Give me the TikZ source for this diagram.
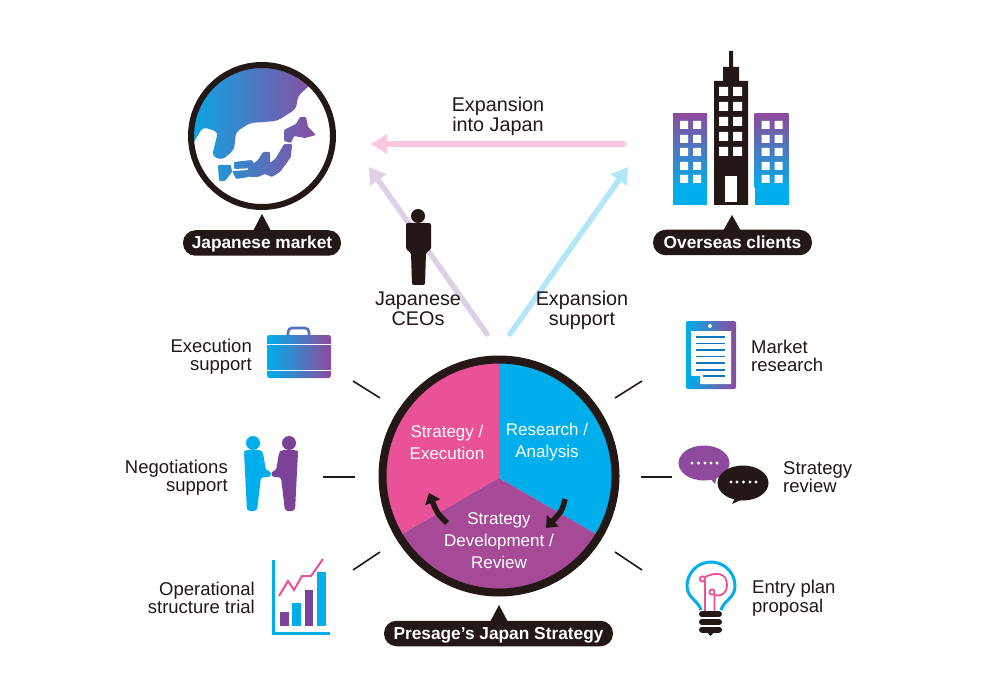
\documentclass[tikz,border=0pt]{standalone}
\usepackage{fontspec}
\setmainfont{Liberation Sans}
\usepackage{xcolor}
\usetikzlibrary{arrows.meta}
\definecolor{ink}{HTML}{231815}
\definecolor{skyc}{HTML}{00AEEB}
\definecolor{plum}{HTML}{8E4A9C}
\definecolor{wine}{HTML}{A64A97}
\definecolor{rose}{HTML}{EA5297}
\definecolor{violet}{HTML}{7B4397}
\definecolor{pagel}{HTML}{0E76BC}
\tikzset{
  lbl/.style={text=ink, align=center, inner sep=0pt, font=\fontsize{19.8}{20}\selectfont},
  lblr/.style={text=ink, inner sep=0pt, align=right, anchor=east, font=\fontsize{18.5}{18.5}\selectfont},
  lbll/.style={text=ink, inner sep=0pt, align=left, anchor=west, font=\fontsize{18.5}{18.5}\selectfont},
  pie/.style={text=white, align=center, inner sep=0pt, font=\fontsize{17}{22}\selectfont},
  pill/.style={fill=ink, text=white, rounded corners=12.5pt, minimum height=25.5pt, inner sep=0pt, text height=12pt, text depth=0.5pt, font=\fontsize{17.3}{17.3}\selectfont\bfseries},
  tick/.style={draw=ink, line width=1.6pt},
  bigarrow/.style={line width=5.5pt, -{Triangle[length=16pt,width=19pt]}},
  turn/.style={draw=ink, line width=5.5pt, -{Triangle[length=10pt,width=16pt]}},
  gradh/.style={left color=skyc, right color=plum, draw=none},
}
\begin{document}
\begin{tikzpicture}[x=1pt,y=-1pt]
\useasboundingbox (0,0) rectangle (1000,700);
\fill[white] (0,0) rectangle (1000,700);

% globe
\begin{scope}
\clip (262,136) circle [radius=71];
\path[gradh, rounded corners=4pt] (310,85)--(298,96)--(296,109)--(277,121)--(250,123)--(236,132)--(234,150)--(222,160)--(212,156)--(218,132)--(203,127)--(192,145)--(180,100)--(230,60)--(320,60)--cycle
 [rounded corners=1pt]
 (284,130)--(296,124)--(300,117)--(306,117)--(308,127)--(316,135)--(305,138)--(294,136)--(291,143)--(284,141)--cycle
 (284,144)--(292,144)--(291,157)--(280,172)--(272,177)--(265,174)--(258,177)--(249,177)--(248,168)--(258,160)--(263,152)--(270,152)--(270,163)--(276,158)--cycle
 (234,162)--(252,160)--(256,168)--(234,169)--cycle
 (232,171)--(249,170)--(249,177)--(236,179)--cycle
 (218,165)--(231,165)--(232,172)--(225,181)--(219,181)--cycle;
\end{scope}
\draw[ink, line width=6pt] (262,136) circle [radius=71];

\fill[ink] (262,214)--(271,231)--(253,231)--cycle;
\node[pill, minimum width=158pt] (market) at (262,243) {Japanese market};

% buildings
\fill[ink] (729,51) rectangle (733,67) (723,67) rectangle (739,81) (714,81) rectangle (748,205);
\fill[white] (719,87) rectangle ++(9,9) (733,87) rectangle ++(9,9);
\fill[white] (719,102) rectangle ++(9,9) (733,102) rectangle ++(9,9);
\fill[white] (719,117) rectangle ++(9,9) (733,117) rectangle ++(9,9);
\fill[white] (719,132) rectangle ++(9,9) (733,132) rectangle ++(9,9);
\fill[white] (719,147) rectangle ++(9,9) (733,147) rectangle ++(9,9);
\fill[white] (725,176) rectangle (737,202);

\begin{scope}[xshift=0pt]
\shade[top color=plum, bottom color=skyc] (673,114) rectangle (707,188);
\fill[skyc] (673,187) rectangle (707,205);
\fill[white] (680,121) rectangle ++(8,8) (693,121) rectangle ++(8,8);
\fill[white] (680,135) rectangle ++(8,8) (693,135) rectangle ++(8,8);
\fill[white] (680,148) rectangle ++(8,8) (693,148) rectangle ++(8,8);
\fill[white] (680,162) rectangle ++(8,8) (693,162) rectangle ++(8,8);
\fill[white] (680,175) rectangle ++(8,8) (693,175) rectangle ++(8,8);
\end{scope}
\begin{scope}[xshift=81.5pt]
\shade[top color=plum, bottom color=skyc] (673,114) rectangle (707,188);
\fill[skyc] (673,187) rectangle (707,205);
\fill[white] (680,121) rectangle ++(8,8) (693,121) rectangle ++(8,8);
\fill[white] (680,135) rectangle ++(8,8) (693,135) rectangle ++(8,8);
\fill[white] (680,148) rectangle ++(8,8) (693,148) rectangle ++(8,8);
\fill[white] (680,162) rectangle ++(8,8) (693,162) rectangle ++(8,8);
\fill[white] (680,175) rectangle ++(8,8) (693,175) rectangle ++(8,8);
\end{scope}

\fill[ink] (732,215)--(741,231)--(723,231)--cycle;
\node[pill, minimum width=159pt] (clients) at (732.5,242.5) {Overseas clients};

% arrows of the triangle
\coordinate (pinkfrom) at (624,144);
\coordinate (pinkto) at (371,144);
\coordinate (ceofrom) at (487,334);
\coordinate (ceoto) at (369,167);
\coordinate (supfrom) at (510,334);
\coordinate (supto) at (628,167);
\draw[bigarrow, draw=rose!32!white, line cap=round] (pinkfrom)--(pinkto);
\draw[bigarrow, draw=violet!25!white, line cap=round] (ceofrom)--(ceoto);
\draw[bigarrow, draw=skyc!30!white, line cap=round] (supfrom)--(supto);

\node[lbl] (intojapan) at (498,116) {Expansion\\into Japan};
\node[lbl] (ceos) at (418,309) {Japanese\\CEOs};
\node[lbl] (expsupport) at (582,310) {Expansion\\support};

% person
\fill[ink] (418,216) circle [radius=7];
\fill[ink, rounded corners=2pt] (406,223)--(431,223)--(431,250)--(426,252)--(425,285)--(412,285)--(411,252)--(406,250)--cycle;

% big circle
\begin{scope}
\clip (499,476) circle [radius=116];
\fill[rose] (499,478)--(499,340)--(340,340)--(326,578)--cycle;
\fill[skyc] (499,478)--(499,340)--(660,340)--(672,578)--cycle;
\fill[wine] (499,478)--(672,578)--(672,620)--(326,620)--(326,578)--cycle;
\end{scope}
\draw[ink, line width=8pt] (499,476) circle [radius=116.5];

\node[pie] (execution) at (447,442.5) {Strategy /\\Execution};
\node[pie] (analysis) at (547,442.5) {Research /\\Analysis};
\node[pie] (review) at (499,541) {Strategy\\Development /~\\Review};

\coordinate (turnafrom) at (565,499);
\coordinate (turnato) at (546,528);
\coordinate (turnbfrom) at (447,523);
\coordinate (turnbto) at (429,493);
\draw[turn] (turnafrom) .. controls (562,511) .. (turnato);
\draw[turn] (turnbfrom) .. controls (437,513) .. (turnbto);

\fill[ink] (499,605)--(508,622)--(490,622)--cycle;
\node[pill, minimum width=229pt] (presage) at (498.5,633.5) {Presage’s Japan Strategy};

% ticks round the circle
\coordinate (ta1) at (353,381);
\coordinate (ta2) at (380,398);
\coordinate (tb1) at (323,477);
\coordinate (tb2) at (355,477);
\coordinate (tc1) at (353,570);
\coordinate (tc2) at (380,552);
\coordinate (td1) at (615,398);
\coordinate (td2) at (642,381);
\coordinate (te1) at (641,477);
\coordinate (te2) at (672,477);
\coordinate (tf1) at (615,552);
\coordinate (tf2) at (642,570);
\draw[tick] (ta1)--(ta2);
\draw[tick] (tb1)--(tb2);
\draw[tick] (tc1)--(tc2);
\draw[tick] (td1)--(td2);
\draw[tick] (te1)--(te2);
\draw[tick] (tf1)--(tf2);

% left labels
\node[lblr] (execsup) at (252,356.5) {Execution\\support};
\node[lblr] (negsup) at (228,477.5) {Negotiations\\support};
\node[lblr] (trial) at (255,598) {Operational\\structure trial};
% right labels
\node[lbll] (mresearch) at (751,356) {Market\\research};
\node[lbll] (sreview) at (783,477) {Strategy\\review};
\node[lbll] (proposal) at (752,598) {Entry plan\\proposal};

% briefcase
\draw[line width=2.6pt, draw=skyc!40!plum, rounded corners=4pt] (288,336)--(288,328)--(309,328)--(309,336);
\shade[gradh, rounded corners=2.5pt] (267,335) rectangle (331,378);
\draw[white, line width=1pt] (267,344.5)--(331,344.5) (267,370)--(331,370);

% handshake
\fill[skyc] (253,443) circle [radius=7];
\fill[skyc, rounded corners=3pt] (244,452)--(245,450)--(261,450)--(263,453)--(266,471)--(271,471)--(271,477)--(261,477)--(257,511)--(247,511)--cycle;
\fill[violet] (289,443) circle [radius=7];
\fill[violet, rounded corners=3pt] (298,452)--(297,450)--(281,450)--(279,453)--(276,471)--(271.5,471)--(271.5,477)--(281,477)--(285,511)--(295,511)--cycle;

% chart
\draw[skyc, line width=3pt] (273,560)--(273,633)--(330,633);
\fill[violet] (280,612) rectangle (289,626);
\fill[skyc] (292,603) rectangle (301,626);
\fill[violet] (305,590) rectangle (313,626);
\fill[skyc] (317,572) rectangle (326,626);
\draw[rose, line width=2pt] (279,596)--(288,581)--(294,590)--(302,576)--(311,576)--(323,559);

% tablet
\shade[gradh, rounded corners=2pt] (686,321) rectangle (736,389);
\fill[white] (691,331)--(731,331)--(731,384)--(700,384)--(691,375)--cycle;
\fill[skyc] (691.5,376)--(700,376)--(700,384.5)--cycle;
\fill[white] (710,326) circle [radius=2];
\draw[pagel, line width=1.4pt] (696,337)--(725,337) (696,343.5)--(725,343.5) (696,350)--(725,350) (696,356.5)--(725,356.5) (696,363)--(725,363) (696,370)--(725,370) (703,376)--(725,376);

% speech bubbles
\fill[plum] (704,463) ellipse [x radius=25.5, y radius=17.5];
\fill[plum] (708,476)--(715,484)--(718,472)--cycle;
\fill[ink] (743,483) ellipse [x radius=25.5, y radius=17.5];
\fill[ink] (736,496)--(732,504)--(745,498)--cycle;
\fill[white] (692,463) circle [radius=1.6] (698.5,463) circle [radius=1.6] (705,463) circle [radius=1.6] (711,463) circle [radius=1.6] (717,463) circle [radius=1.6];
\fill[white] (731,482) circle [radius=1.6] (737,482) circle [radius=1.6] (743.5,482) circle [radius=1.6] (750,482) circle [radius=1.6] (756,482) circle [radius=1.6];

% bulb
\draw[skyc, line width=3pt] (701,610) .. controls (698,600) and (687,598) .. (687,586) arc [start angle=180, end angle=360, radius=24] .. controls (735,598) and (724,600) .. (721,610);
\draw[rose, line width=1.8pt] (705,611)--(705,581) (702.5,579) circle [radius=2.6] (705,577) .. controls (715,572) and (727,572) .. (727,585) .. controls (727,594) and (720,597) .. (714.5,595) (712,592) circle [radius=2.6] (714.5,595)--(714.5,611);
\draw[ink, line width=6pt, line cap=round] (702,614)--(719,614) (702,622)--(719,622) (702,629.5)--(719,629.5);
\fill[ink] (706,631)--(715,631)--(710.5,636)--cycle;

\end{tikzpicture}
\end{document}
